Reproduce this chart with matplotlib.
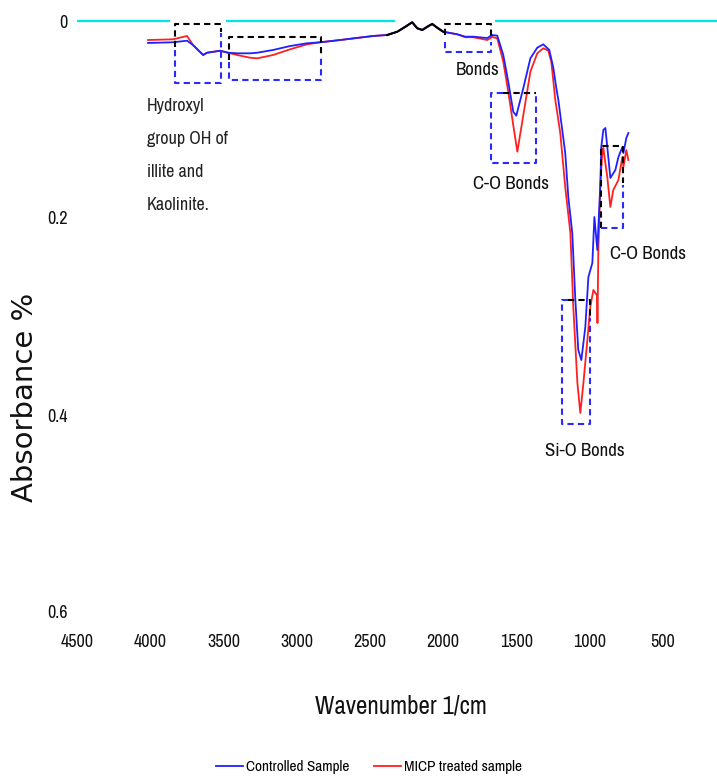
import matplotlib.pyplot as plt
from matplotlib import font_manager

# wavenumber (1/cm) and absorbance
controlled_wn = [4015, 3844, 3749, 3708, 3639, 3612, 3523, 3469, 3407, 3318, 3270,
                 3161, 3045, 2929, 2840, 2703, 2478, 2382, 2314, 2212, 2177, 2143,
                 2075, 2041, 2000, 1904, 1850, 1795, 1699, 1665, 1631, 1590, 1556,
                 1522, 1501, 1453, 1405, 1358, 1317, 1276, 1248, 1228, 1214, 1167,
                 1146, 1119, 1098, 1078, 1057, 1030, 1009, 982, 968, 948, 927, 921,
                 907, 893, 880, 859, 825, 804, 777, 770, 750, 736]
controlled_abs = [0.0223, 0.0216, 0.0200, 0.0244, 0.0345, 0.0322, 0.0302, 0.0322,
                  0.0328, 0.0328, 0.0322, 0.0294, 0.0254, 0.0226, 0.0216, 0.0193,
                  0.0152, 0.0142, 0.0109, 0.0013, 0.0074, 0.0091, 0.0030, 0.0068,
                  0.0109, 0.0135, 0.0159, 0.0159, 0.0173, 0.0142, 0.0149, 0.0345,
                  0.0616, 0.0921, 0.0961, 0.0680, 0.0379, 0.0271, 0.0237, 0.0294,
                  0.0477, 0.0680, 0.0802, 0.1340, 0.1787, 0.2152, 0.2832, 0.3340,
                  0.3442, 0.3107, 0.2599, 0.2457, 0.1990, 0.2325, 0.1645, 0.1279,
                  0.1107, 0.1086, 0.1279, 0.1594, 0.1513, 0.1381, 0.1279, 0.1340,
                  0.1188, 0.1137]

treated_wn = [4015, 3844, 3749, 3708, 3639, 3612, 3523, 3469, 3407, 3318, 3270,
              3161, 3045, 2929, 2840, 2703, 2478, 2382, 2314, 2212, 2177, 2143,
              2075, 2041, 2000, 1904, 1850, 1795, 1699, 1665, 1631, 1590, 1556,
              1522, 1494, 1453, 1405, 1358, 1317, 1283, 1262, 1235, 1201, 1167,
              1132, 1112, 1084, 1064, 1043, 1016, 996, 975, 962, 950, 947, 941,
              927, 914, 907, 880, 859, 839, 804, 777, 770, 750, 736]
treated_abs = [0.0193, 0.0186, 0.0152, 0.0244, 0.0345, 0.0322, 0.0302, 0.0322,
               0.0345, 0.0373, 0.0379, 0.0345, 0.0287, 0.0237, 0.0216, 0.0193,
               0.0152, 0.0142, 0.0109, 0.0013, 0.0074, 0.0091, 0.0030, 0.0068,
               0.0109, 0.0135, 0.0165, 0.0165, 0.0193, 0.0162, 0.0176, 0.0413,
               0.0718, 0.1056, 0.1327, 0.0954, 0.0515, 0.0328, 0.0277, 0.0300,
               0.0416, 0.0800, 0.1137, 0.1685, 0.2152, 0.2904, 0.3675, 0.3980,
               0.3675, 0.3239, 0.2904, 0.2731, 0.2761, 0.2780, 0.3066, 0.2325,
               0.1645, 0.1340, 0.1289, 0.1584, 0.1888, 0.1716, 0.1614, 0.1381,
               0.1482, 0.1310, 0.1411]

# noisy CO2 stretch, drawn in black
co2_wn = [2382, 2314, 2260, 2212, 2177, 2143, 2102, 2075, 2041, 2000]
co2_abs = [0.0142, 0.0109, 0.0061, 0.0013, 0.0074, 0.0091, 0.0051, 0.0030, 0.0068, 0.0109]

x_ticks = [4500, 4000, 3500, 3000, 2500, 2000, 1500, 1000, 500]
y_ticks = [0, 0.2, 0.4, 0.6]
y_tick_labels = ['0', '0.2', '0.4', '0.6']

# zero line pieces (start, end)
zero_starts = [4500, 3482, 1645]
zero_ends = [3865, 2328, 131]

hydroxyl_lines = ['Hydroxyl', 'group OH of', 'illite and', 'Kaolinite.']
peak_labels = ['Bonds', 'C-O Bonds', 'C-O Bonds', 'Si-O Bonds']

# pick a narrow face if one is installed, else Arial-like
names = sorted({f.name for f in font_manager.fontManager.ttflist})
narrow_names = [n for n in names if 'Narrow' in n or 'Condensed' in n]
narrow = narrow_names[:1] + ['Liberation Sans', 'DejaVu Sans']
plt.rcParams['font.family'] = narrow

fig = plt.figure(figsize=(7.17, 7.76), dpi=100)
ax = fig.add_axes([77 / 717, 164 / 776, 640 / 717, 591 / 776])

ax.hlines([0] * len(zero_starts), zero_starts, zero_ends, color='#00e6f0', lw=1.6,
          clip_on=False, zorder=1)

ax.plot(treated_wn, treated_abs, color='#ff2020', lw=1.3, label='MICP treated sample', zorder=3)
ax.plot(controlled_wn, controlled_abs, color='#2020ff', lw=1.3, label='Controlled Sample', zorder=3)
ax.plot(co2_wn, co2_abs, color='black', lw=1.5, zorder=4)

# dashed marker boxes: black part and blue part of each
black_parts = [
    [(3831, 0.026), (3831, 0.003), (3516, 0.003), (3516, 0.011)],
    [(3462, 0.040), (3462, 0.016), (2833, 0.016), (2833, 0.034)],
    [(1986, 0.014), (1986, 0.003), (1672, 0.003), (1672, 0.019)],
    [(1590, 0.0731), (1365, 0.0731)],
    [(1146, 0.2832), (996, 0.2832), (996, 0.3005)],
    [(921, 0.2102), (921, 0.1269), (770, 0.1269), (770, 0.1645)],
]
blue_parts = [
    [(3831, 0.029), (3831, 0.063), (3516, 0.063), (3516, 0.012)],
    [(3462, 0.042), (3462, 0.060), (2833, 0.060), (2833, 0.036)],
    [(1986, 0.021), (1986, 0.0315), (1672, 0.0315), (1672, 0.021)],
    [(1590, 0.0731), (1672, 0.0731), (1672, 0.1442), (1365, 0.1442), (1365, 0.0731)],
    [(1146, 0.2832), (1187, 0.2832), (1187, 0.4091), (996, 0.4091), (996, 0.302)],
    [(921, 0.2102), (770, 0.2102), (770, 0.166)],
]
for part in black_parts:
    xs, ys = zip(*part)
    ax.plot(xs, ys, color='black', lw=1.5, ls=(0, (3, 2)), zorder=5)
for part in blue_parts:
    xs, ys = zip(*part)
    ax.plot(xs, ys, color='#2a2aff', lw=1.5, ls=(0, (3, 2)), zorder=5)

for i, line in enumerate(hydroxyl_lines):
    ax.text(4022, 0.0863 + i * 0.0335, line, fontsize=13, ha='left', va='center',
            color='#222222')
label_pos = [(1768, 0.0497), (1536, 0.1655), (600, 0.2365), (1030, 0.4365)]
for txt, (px, py) in zip(peak_labels, label_pos):
    ax.text(px, py, txt, fontsize=13.5, ha='center', va='center', color='#111111')

ax.set_xlim(4500, 131)
ax.set_ylim(0.6, 0)
ax.set_xticks(x_ticks)
ax.set_yticks(y_ticks)
ax.set_yticklabels(y_tick_labels)
ax.tick_params(axis='both', length=0, labelsize=13, colors='#111111')
ax.tick_params(axis='x', pad=16)
ax.tick_params(axis='y', pad=7)
for s in ax.spines.values():
    s.set_visible(False)

ax.set_xlabel('Wavenumber 1/cm', fontsize=18, color='#111111', va='center')
ax.xaxis.set_label_coords(0.506, -0.159)
ax.set_ylabel('Absorbance %', fontsize=21, family=['DejaVu Sans'], color='#111111', va='center')
ax.yaxis.set_label_coords(-0.081, 0.364)

handles, labels = ax.get_legend_handles_labels()
fig.legend(handles[::-1], labels[::-1], loc='center', bbox_to_anchor=(369 / 717, 9 / 776),
           ncol=2, frameon=False, fontsize=11, handlelength=1.8, handletextpad=0.2,
           columnspacing=1.6)

fig.savefig('out.png', dpi=100)
